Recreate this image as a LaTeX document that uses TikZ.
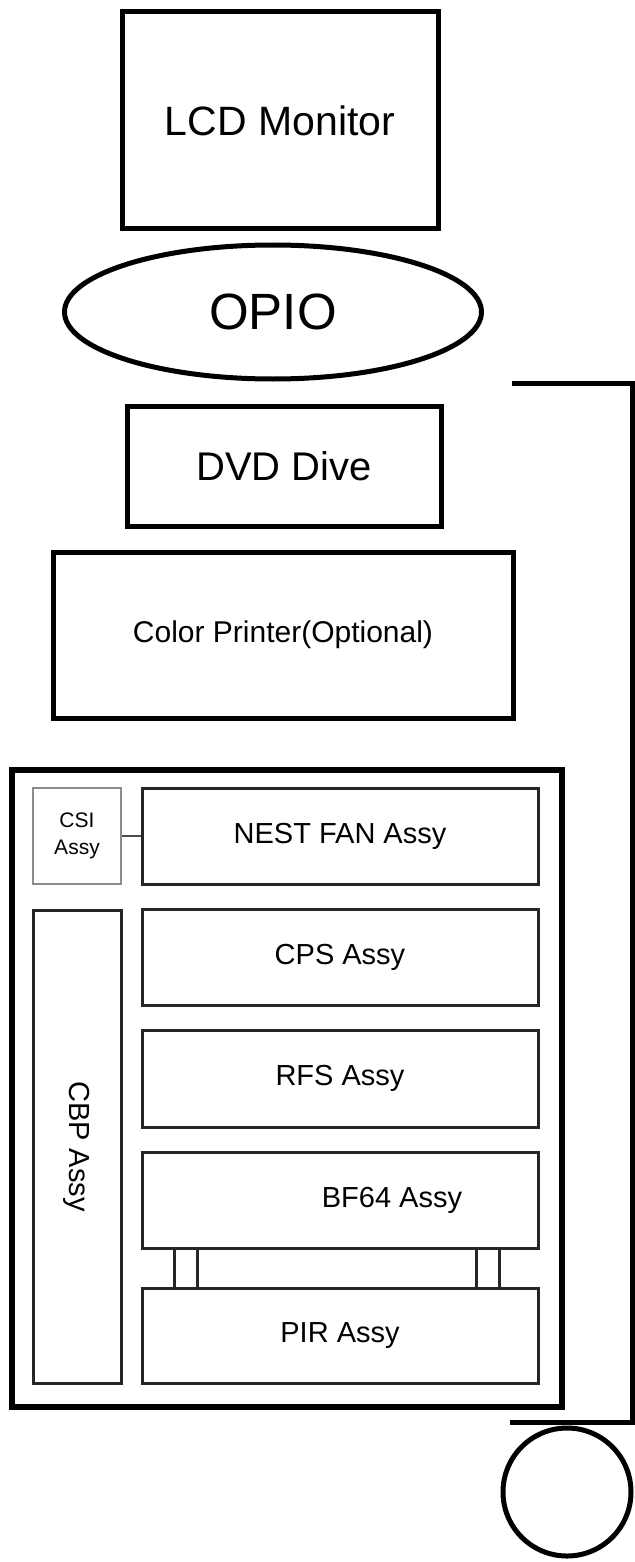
\documentclass[tikz,border=0pt]{standalone}
\usepackage{fontspec}
\setmainfont{Liberation Sans}
\usetikzlibrary{shapes.geometric}

\begin{document}
\begin{tikzpicture}[x=1pt,y=-1pt,
  heavy/.style={draw=black,line width=5pt,inner sep=0pt},
  unit/.style={draw=black!85,line width=3pt,inner sep=0pt,minimum width=396pt,minimum height=96pt,font=\fontsize{29}{32}\selectfont},
  slim/.style={draw=black!45,line width=2pt,inner sep=0pt}]
\path[use as bounding box] (0,0) rectangle (634,1562);
% upper stack
\node[heavy,minimum width=316pt,minimum height=217pt,font=\fontsize{41}{44}\selectfont] (lcd) at (280,120.5) {LCD Monitor};
\node[heavy,ellipse,minimum width=417pt,minimum height=134pt,font=\fontsize{51}{54}\selectfont] (opio) at (273,312) {OPIO};
\node[heavy,minimum width=314pt,minimum height=120pt,font=\fontsize{40}{43}\selectfont] (dvd) at (284,466) {DVD Dive};
\node[heavy,minimum width=460pt,minimum height=166pt,font=\fontsize{30}{33}\selectfont] (printer) at (283,635) {Color Printer(Optional)};
% cabinet
\node[draw=black,line width=6pt,inner sep=0pt,minimum width=550pt,minimum height=637pt] (cabinet) at (287,1088.5) {};
\node[slim,minimum width=88pt,minimum height=96pt,align=center,font=\fontsize{21}{27}\selectfont] (csi) at (77,836) {CSI\\Assy};
\node[unit] (nest) at (340,836) {NEST FAN Assy};
\draw[black!70,line width=1.5pt] (csi) -- (nest);
\node[unit,minimum width=88pt,minimum height=473pt] (cbp) at (77,1146.5) {};
\node[rotate=-90,font=\fontsize{29}{32}\selectfont] (cbptext) at (cbp.center) {CBP Assy};
\node[unit] (cps) at (340,957) {CPS Assy};
\node[unit,minimum height=97pt] (rfs) at (340,1078.5) {RFS Assy};
\node[unit] (bf) at (340,1200) {};
\node[font=\fontsize{29}{32}\selectfont] (bftext) at (392,1200) {BF64 Assy};
\node[unit,minimum height=95pt] (pir) at (340,1335.5) {PIR Assy};
\foreach \px/\side in {186/l,488/r}{
  \node[draw=black!85,line width=3pt,inner sep=0pt,minimum width=23pt,minimum height=40pt] (pillar\side) at (\px,1268) {};
}
% side rail and castor
\coordinate (railtop) at (512,383);
\coordinate (railbot) at (510,1422);
\draw[line width=5pt] (railtop) -- ++(120,0) |- (railbot);
\node[heavy,circle,minimum size=128pt] (castor) at (567,1492) {};
\end{tikzpicture}
\end{document}
